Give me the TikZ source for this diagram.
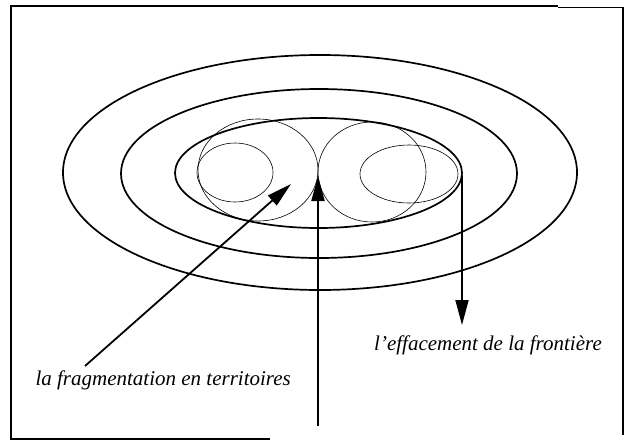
\documentclass[tikz,border=0pt]{standalone}
\usepackage{fontspec}
\setmainfont{Liberation Serif}
\usetikzlibrary{arrows.meta}
\tikzset{
  ring/.style={line width=1.7pt},
  thinring/.style={line width=0.6pt},
  pointer/.style={line width=1.8pt, -{Triangle[length=25pt,width=13pt]}},
  frameline/.style={line width=1.2pt},
  lbl/.style={font=\fontsize{21}{25}\selectfont\itshape, inner sep=0pt}
}
\begin{document}
\begin{tikzpicture}[x=1pt,y=-1pt]
\useasboundingbox (0,0) rectangle (627,440);
% frame (open at the lower right)
\draw[frameline] (270,439) -- (11,439) -- (11,6) -- (558,6);
\draw[frameline] (558,7.5) -- (623,7.5) -- (623,435);
% concentric ellipses
\draw[ring] (320,172.5) ellipse [x radius=257, y radius=117.5];
\draw[ring] (319,173.5) ellipse [x radius=198, y radius=84.5];
\draw[ring] (318.5,173) ellipse [x radius=143.5, y radius=55];
% two tangent circles and small ellipses
\draw[thinring] (258,170) ellipse [x radius=60, y radius=51];
\draw[thinring] (372,172) ellipse [x radius=54, y radius=50];
\draw[thinring] (235,172.5) ellipse [x radius=38, y radius=29.5];
\draw[thinring] (409,174) ellipse [x radius=49, y radius=29];
% arrow end points
\coordinate (ltail) at (85,366);
\coordinate (ltip) at (291,184);
\coordinate (ctail) at (318,426);
\coordinate (ctip) at (318,176);
\coordinate (rtail) at (462,175);
\coordinate (rtip) at (462,325);
\draw[pointer] (ltail) -- (ltip);
\draw[pointer] (ctail) -- (ctip);
\draw[pointer] (rtail) -- (rtip);
% labels
\node[lbl, anchor=base east] (frag) at (291,385) {la fragmentation en territoires};
\node[lbl, anchor=base east] (eff) at (602,350) {l'effacement de la frontière};
\end{tikzpicture}
\end{document}
